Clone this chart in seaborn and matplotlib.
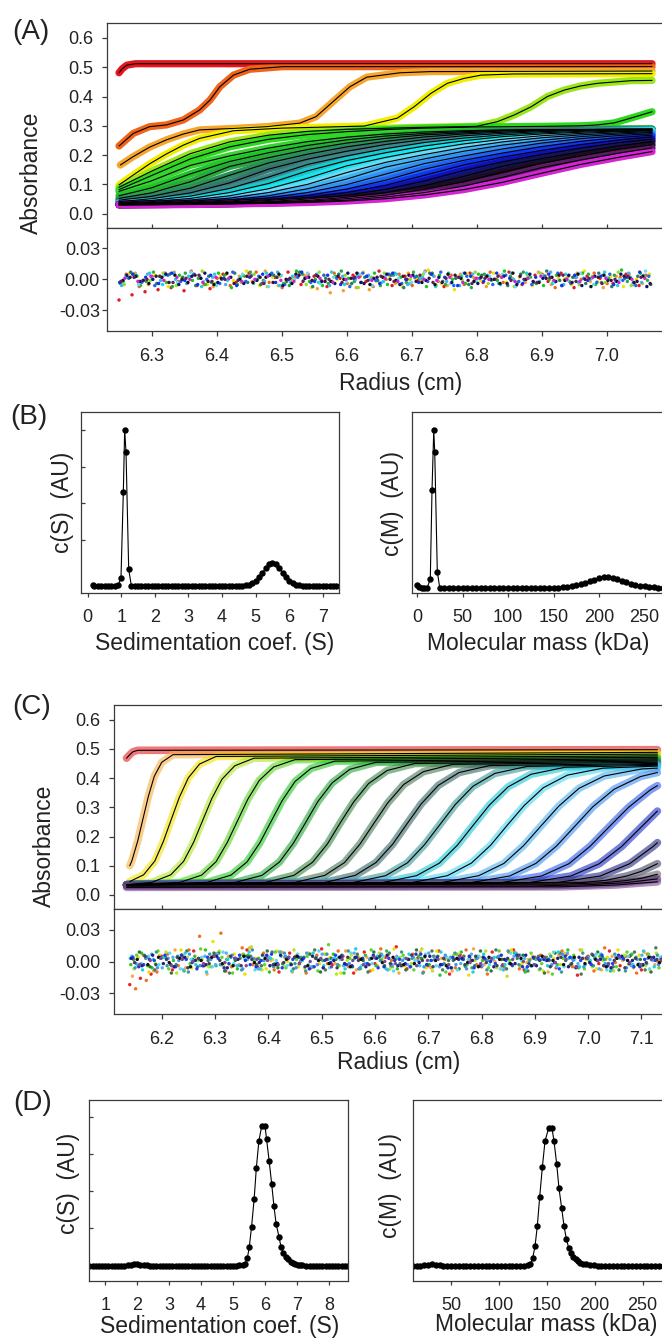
import pandas as pd
import seaborn as sns
import matplotlib.pyplot as plt

# ---------------- (A) absorbance scans ----------------
# first six scans, each with its own radial points (cm) and absorbance
A_top_r = [
    [6.250, 6.255, 6.262, 6.275, 7.070],
    [6.250, 6.272, 6.297, 6.323, 6.349, 6.374, 6.390, 6.405, 6.426, 6.451, 6.502, 7.070],
    [6.252, 6.272, 6.297, 6.323, 6.349, 6.374, 6.426, 6.477, 6.528, 6.553, 6.579, 6.605, 6.631, 6.682, 6.728, 7.070],
    [6.250, 6.272, 6.297, 6.323, 6.349, 6.374, 6.426, 6.500, 6.627, 6.678, 6.704, 6.730, 6.755, 6.781, 6.807, 6.858, 7.070],
    [6.250, 6.300, 6.360, 6.420, 6.480, 6.540, 6.600, 6.700, 6.800, 6.832, 6.858, 6.884, 6.909, 6.935, 6.960, 6.986, 7.037, 7.070],
    [6.250, 6.300, 6.360, 6.420, 6.480, 6.540, 6.600, 6.660, 6.720, 6.800, 6.900, 6.960, 6.986, 7.012, 7.037, 7.070],
]
A_top_abs = [
    [0.481, 0.495, 0.507, 0.512, 0.512],
    [0.231, 0.274, 0.297, 0.303, 0.320, 0.354, 0.388, 0.433, 0.473, 0.493, 0.502, 0.502],
    [0.166, 0.195, 0.227, 0.252, 0.272, 0.286, 0.291, 0.297, 0.309, 0.331, 0.382, 0.433, 0.466, 0.481, 0.485, 0.487],
    [0.098, 0.132, 0.170, 0.204, 0.234, 0.257, 0.283, 0.292, 0.299, 0.326, 0.365, 0.411, 0.445, 0.462, 0.473, 0.477, 0.478],
    [0.090, 0.145, 0.205, 0.245, 0.268, 0.281, 0.288, 0.294, 0.298, 0.314, 0.337, 0.365, 0.400, 0.422, 0.436, 0.445, 0.454, 0.455],
    [0.082, 0.130, 0.187, 0.228, 0.254, 0.270, 0.280, 0.287, 0.292, 0.296, 0.298, 0.300, 0.303, 0.310, 0.326, 0.348],
]
A_top_colors = ["#e4161c", "#f0641a", "#f7a52c", "#f2ee00", "#9ae61a", "#2ed81e"]

# later scans on a common radial grid, absorbance x 1000
A_grid = [6.25, 6.30, 6.36, 6.42, 6.48, 6.54, 6.60, 6.66, 6.72, 6.78, 6.84, 6.90, 6.96, 7.02, 7.07]
A_low_mabs = [
    [76, 112, 165, 197, 224, 246, 261, 272, 279, 283, 286, 287, 288, 289, 289],
    [61, 88, 136, 178, 208, 233, 252, 265, 274, 280, 284, 286, 287, 288, 289],
    [52, 71, 109, 161, 191, 219, 241, 257, 269, 276, 282, 285, 287, 288, 288],
    [46, 59, 87, 131, 173, 203, 228, 247, 262, 272, 278, 283, 285, 287, 288],
    [41, 51, 71, 105, 152, 186, 213, 236, 253, 266, 274, 280, 284, 286, 287],
    [38, 45, 60, 86, 125, 168, 197, 222, 243, 258, 269, 276, 281, 285, 286],
    [36, 41, 52, 72, 103, 146, 181, 208, 231, 249, 263, 272, 278, 282, 285],
    [35, 38, 46, 61, 85, 121, 163, 192, 217, 238, 254, 266, 274, 280, 283],
    [34, 36, 42, 53, 72, 100, 140, 175, 202, 226, 245, 259, 269, 276, 280],
    [33, 35, 39, 47, 61, 85, 118, 159, 187, 213, 234, 250, 263, 272, 277],
    [32, 34, 37, 43, 54, 72, 99, 135, 171, 197, 221, 241, 256, 267, 273],
    [32, 33, 36, 40, 48, 62, 84, 114, 152, 182, 207, 229, 247, 260, 268],
    [32, 33, 35, 38, 45, 55, 72, 97, 131, 166, 193, 216, 236, 252, 262],
    [31, 32, 34, 36, 41, 50, 63, 83, 112, 147, 177, 202, 224, 243, 254],
    [31, 32, 33, 35, 39, 45, 56, 72, 96, 127, 162, 188, 211, 232, 246],
    [30, 31, 32, 34, 37, 42, 51, 63, 83, 109, 142, 172, 197, 220, 235],
    [30, 31, 32, 34, 36, 40, 46, 57, 72, 94, 124, 157, 183, 207, 224],
    [30, 30, 31, 33, 35, 38, 43, 51, 64, 82, 107, 138, 168, 193, 212],
]
A_low_colors = ["#36d430", "#22c22a", "#2aa83e", "#2c8c5c", "#3a7470", "#3a8a8c",
                "#18c8cc", "#1ce4ee", "#6cd8f2", "#44b2f2", "#3290f2", "#2264f2",
                "#1034ee", "#1010b4", "#141458", "#1c0c24", "#5a1c62", "#d424d4"]

# residuals (A): radial grid, per-scan radial offset, residual x 1000
A_res_r = [6.25, 6.27, 6.29, 6.31, 6.33, 6.35, 6.37, 6.39, 6.41, 6.43, 6.45, 6.47, 6.49, 6.51,
           6.53, 6.55, 6.57, 6.59, 6.61, 6.63, 6.65, 6.67, 6.69, 6.71, 6.73, 6.75, 6.77, 6.79,
           6.81, 6.83, 6.85, 6.87, 6.89, 6.91, 6.93, 6.95, 6.97, 6.99, 7.01, 7.03, 7.05]
A_res_shift = [0.000, 0.011, 0.005, 0.016, 0.008, 0.013, 0.002, 0.018, 0.007,
               0.010, 0.004, 0.015, 0.001, 0.012, 0.006, 0.017, 0.003, 0.009]
A_res_milli = [
    [-20, -15, -12, -10, -8, -11, -6, -9, 5, -3, 6, -4, 2, 7, -5, 3, -7, 1, 4, -2, 8, -6, 3, -1, 5, -7, 2, 6, -3, 0, 7, -5, 4, -2, 6, -8, 3, 1, -4, 5, -6],
    [5, -7, 3, 6, -2, 8, -5, 1, -6, 4, 7, -3, -8, 2, 5, -1, 6, -4, 3, -7, 0, 5, -6, 8, -2, 4, -5, 1, 7, -3, -6, 2, 5, -8, 3, 0, 6, -4, 2, -5, 4],
    [-3, 6, -5, 2, 7, -4, 1, -7, 5, 3, -2, 8, -6, 0, 4, -9, -13, -11, -8, -10, 2, -4, 6, -1, 3, -6, 5, 2, -7, 4, 1, -3, 7, -5, 0, 6, -2, -8, 3, 5, -4],
    [6, -2, 4, -7, 1, 5, -5, 3, -1, 8, -6, 2, -3, 6, -8, 4, 0, -5, 7, -2, 3, -7, 1, 9, -4, -10, 5, -1, 6, -3, 2, -6, 4, 1, -5, 8, -2, 3, -7, 0, 5],
    [-5, 3, -1, 6, -6, 2, 8, -4, 0, -3, 5, -7, 3, 1, -5, 7, -2, 4, -8, 2, 6, -3, 0, 5, -6, 3, -1, 7, -4, 2, -7, 4, 6, -2, 1, -5, 3, -3, 7, -6, 2],
    [2, -6, 7, -3, 4, -1, -5, 6, -8, 3, 0, 5, -4, 8, -2, -6, 3, 1, -3, 6, -5, 2, 7, -7, 4, 0, -4, 5, -1, 8, -3, 2, -6, 4, -2, 6, -5, 1, 9, -4, -1],
    [-4, 5, -2, 3, -7, 6, 1, -3, 4, -5, 7, -1, 2, -6, 5, 0, -4, 8, -2, 3, -6, 4, -3, 1, 6, -5, 2, -8, 5, -1, 3, 7, -4, 0, -6, 2, 5, -3, 4, -2, 6],
    [7, -1, -4, 5, 2, -6, 3, 0, 6, -3, -5, 4, -2, 7, -7, 1, 5, -4, 2, -1, 4, -8, 3, 6, -2, 1, -5, 4, 0, -6, 5, -3, 8, -1, 2, -4, 6, -7, 1, 3, -5],
    [-2, 4, 6, -5, 0, 3, -7, 5, -1, 2, -4, 6, -6, 3, 1, -3, 7, -5, 4, 0, -2, 5, -4, 2, -7, 6, 3, -1, 4, -5, 0, 6, -2, -4, 5, -3, 1, 7, -6, 2, 4],
    [3, -5, 1, 4, -3, 7, -2, -6, 2, 5, -1, -7, 4, 0, 6, -4, 2, -2, 5, -6, 3, 1, -3, 7, -1, -4, 6, -2, 3, 5, -7, 1, 4, -3, -1, 6, -5, 2, 0, -4, 8],
    [-6, 2, 5, -1, 6, -4, 3, 2, -5, 0, 4, -2, 7, -3, -1, 5, -6, 3, 0, 4, -3, 6, -5, 1, 3, -2, -6, 5, 2, -4, 6, -1, -3, 7, -5, 2, 0, 4, -2, 6, -3],
    [1, -3, -6, 4, -2, 5, 0, -4, 7, -2, 3, 6, -5, 2, -3, 4, 1, -7, 6, -1, 5, -4, 2, -2, 7, -6, 3, 1, -5, 4, -2, -5, 3, 6, -4, 1, -3, 5, -1, -6, 3],
    [-3, 5, 2, -4, 6, -1, -5, 4, 1, -6, 2, 5, -3, 0, 7, -2, 4, -5, 1, 3, -4, 6, 0, -3, 5, 2, -6, 3, -2, 6, 1, -4, 2, 5, -6, 4, -1, 3, -5, 2, 7],
    [4, -2, 0, 5, -5, 3, 6, -3, 2, -4, -1, 4, -6, 5, 2, -2, -4, 6, -3, 1, 5, -5, 4, -1, 2, -3, 6, -4, 0, 3, -5, 5, 1, -2, 4, -6, 3, -1, 5, -3, -7],
    [-1, 3, -4, 2, 4, -3, 1, -5, 6, 0, -3, 2, 5, -4, 1, 3, -2, 0, 6, -5, 2, -1, 4, -3, -5, 5, 1, -2, 3, -4, 6, 0, -3, 2, -1, 5, -7, 4, -2, 1, 3],
    [2, -1, 3, -3, 0, 4, -2, 1, -4, 3, 2, -3, 0, 4, -1, -2, 3, 1, -4, 2, 0, 3, -2, 1, -3, 4, -1, 2, 0, -4, 3, -2, 1, 4, -3, 0, 2, -1, 3, -2, -4],
    [-2, 2, 0, 3, -3, 1, 4, -2, 0, -1, 3, -4, 2, 1, -2, 4, 0, -3, 2, -1, 3, -2, 0, 4, -3, 1, 2, -4, 1, 3, -1, 0, -3, 2, 4, -2, 1, -4, 0, 3, 2],
    [1, -2, 3, -1, 2, 0, -3, 2, 1, -2, 0, 3, -1, -2, 2, 1, -3, 0, 2, -1, 1, -2, 3, 0, -1, 2, -3, 1, 0, 2, -2, 1, 3, -1, 0, -2, 2, 1, -3, 0, 1],
]
A_res_colors = ["#e41a1c", "#f0641a", "#f5a030", "#f0e000", "#90e020", "#20c020",
                "#2aa83e", "#2a7a6a", "#20d0e0", "#70d8f0", "#44b2f2", "#2264f2",
                "#1034ee", "#101070", "#101010", "#3a1040", "#602060", "#d020d0"]

# ---------------- (B) c(s) and c(M) ----------------
B_s = [0.15, 0.2, 0.3, 0.4, 0.5, 0.6, 0.7, 0.8, 0.9, 0.99, 1.06, 1.10, 1.14, 1.22,
       1.3, 1.4, 1.5, 1.6, 1.7, 1.8, 1.9, 2.0, 2.1, 2.2, 2.3, 2.4, 2.5, 2.6, 2.7, 2.8, 2.9,
       3.0, 3.1, 3.2, 3.3, 3.4, 3.5, 3.6, 3.7, 3.8, 3.9, 4.0, 4.1, 4.2, 4.3, 4.4, 4.5, 4.6,
       4.7, 4.8, 4.9, 5.0, 5.1, 5.2, 5.3, 5.4, 5.5, 5.6, 5.7, 5.8, 5.9, 6.0, 6.1, 6.2, 6.3,
       6.4, 6.5, 6.6, 6.7, 6.8, 6.9, 7.0, 7.1, 7.2, 7.3, 7.4, 7.5]
B_cs = [0.005, 0, 0, 0, 0, 0, 0, 0, 0.003, 0.05, 0.60, 1.0, 0.857, 0.107,
        0, 0, 0, 0, 0, 0, 0, 0, 0, 0, 0, 0, 0, 0, 0, 0, 0,
        0, 0, 0, 0, 0, 0, 0, 0, 0, 0, 0, 0, 0, 0, 0, 0, 0,
        0.003, 0.008, 0.017, 0.033, 0.056, 0.085, 0.115, 0.138, 0.146, 0.138, 0.115, 0.085, 0.056, 0.033, 0.017, 0.008, 0.003,
        0, 0, 0, 0, 0, 0, 0, 0, 0, 0, 0, 0]
B_m = [0, 2, 5, 8, 11, 14.6, 16.5, 18.4, 19.5, 22.3,
       25, 30, 35, 40, 45, 50, 55, 60, 65, 70, 75, 80, 85, 90, 95, 100, 105, 110, 115, 120, 125, 130, 135, 140, 145, 150,
       155, 160, 165, 170, 175, 180, 185, 190, 195, 200, 205, 210, 215, 220, 225, 230, 235, 240, 245, 250, 255, 260, 265, 270, 275, 280]
B_cm = [0.017, 0.004, 0, 0, 0, 0.056, 0.63, 1.01, 0.87, 0.105,
        0, 0, 0, 0, 0, 0, 0, 0, 0, 0, 0, 0, 0, 0, 0, 0, 0, 0, 0, 0, 0, 0, 0, 0, 0, 0,
        0.002, 0.005, 0.008, 0.012, 0.018, 0.025, 0.034, 0.045, 0.054, 0.063, 0.069, 0.069, 0.064, 0.055, 0.046, 0.036,
        0.027, 0.020, 0.014, 0.010, 0.006, 0.004, 0.002, 0.001, 0, 0]

# ---------------- (C) absorbance scans ----------------
C_r = [
    [6.134, 6.140, 6.146, 6.155, 7.130],
    [6.140, 6.144, 6.155, 6.165, 6.175, 6.186, 6.200, 6.221, 7.130],
    [6.140, 6.166, 6.187, 6.203, 6.218, 6.233, 6.250, 6.271, 6.302, 7.130],
    [6.134, 6.181, 6.217, 6.241, 6.260, 6.277, 6.294, 6.313, 6.337, 6.373, 7.130],
    [6.134, 6.234, 6.275, 6.302, 6.323, 6.342, 6.361, 6.383, 6.410, 6.450, 7.130],
    [6.134, 6.285, 6.330, 6.360, 6.384, 6.405, 6.426, 6.450, 6.480, 6.525, 7.130],
    [6.134, 6.338, 6.388, 6.421, 6.447, 6.470, 6.493, 6.520, 6.553, 6.602, 7.130],
    [6.134, 6.395, 6.448, 6.483, 6.511, 6.535, 6.560, 6.588, 6.623, 6.675, 7.130],
    [6.134, 6.450, 6.506, 6.543, 6.572, 6.598, 6.624, 6.654, 6.691, 6.746, 7.130],
    [6.134, 6.504, 6.563, 6.602, 6.633, 6.660, 6.687, 6.719, 6.758, 6.816, 7.130],
    [6.134, 6.558, 6.620, 6.661, 6.693, 6.722, 6.751, 6.784, 6.825, 6.886, 7.130],
    [6.134, 6.613, 6.678, 6.721, 6.755, 6.785, 6.815, 6.850, 6.893, 6.957, 7.130],
    [6.134, 6.668, 6.736, 6.781, 6.817, 6.848, 6.880, 6.916, 6.961, 7.028, 7.130],
    [6.134, 6.724, 6.795, 6.842, 6.879, 6.912, 6.945, 6.983, 7.030, 7.100, 7.130],
    [6.134, 6.779, 6.853, 6.902, 6.941, 6.975, 7.009, 7.049, 7.098, 7.130],
    [6.134, 6.836, 6.913, 6.964, 7.004, 7.040, 7.076, 7.117, 7.130],
    [6.134, 6.888, 6.968, 7.021, 7.063, 7.100, 7.130],
    [6.134, 6.940, 7.023, 7.078, 7.122, 7.130],
    [6.134, 6.987, 7.033, 7.073, 7.100, 7.130],
    [6.134, 6.950, 7.030, 7.070, 7.100, 7.130],
    [6.134, 6.900, 7.000, 7.070, 7.130],
    [6.134, 6.950, 7.050, 7.130],
]
C_abs = [
    [0.468, 0.480, 0.490, 0.495, 0.497],
    [0.100, 0.117, 0.185, 0.262, 0.338, 0.406, 0.454, 0.480, 0.488],
    [0.046, 0.069, 0.116, 0.183, 0.259, 0.334, 0.401, 0.448, 0.474, 0.482],
    [0.035, 0.043, 0.069, 0.115, 0.181, 0.256, 0.330, 0.396, 0.442, 0.468, 0.476],
    [0.035, 0.043, 0.068, 0.114, 0.180, 0.253, 0.326, 0.392, 0.438, 0.463, 0.471],
    [0.035, 0.043, 0.068, 0.113, 0.178, 0.251, 0.323, 0.388, 0.433, 0.458, 0.466],
    [0.035, 0.043, 0.067, 0.113, 0.177, 0.248, 0.320, 0.384, 0.430, 0.454, 0.462],
    [0.035, 0.043, 0.067, 0.112, 0.175, 0.247, 0.318, 0.381, 0.426, 0.450, 0.458],
    [0.035, 0.043, 0.067, 0.111, 0.174, 0.245, 0.315, 0.378, 0.422, 0.447, 0.454],
    [0.035, 0.042, 0.067, 0.111, 0.173, 0.243, 0.312, 0.375, 0.419, 0.443, 0.450],
    [0.035, 0.042, 0.066, 0.110, 0.172, 0.241, 0.310, 0.372, 0.416, 0.440, 0.447],
    [0.035, 0.042, 0.066, 0.109, 0.171, 0.240, 0.308, 0.370, 0.413, 0.437, 0.444],
    [0.035, 0.042, 0.066, 0.109, 0.170, 0.238, 0.306, 0.367, 0.410, 0.434, 0.441],
    [0.035, 0.042, 0.066, 0.108, 0.169, 0.237, 0.304, 0.365, 0.407, 0.431, 0.434],
    [0.035, 0.042, 0.065, 0.108, 0.168, 0.235, 0.302, 0.362, 0.405, 0.419],
    [0.035, 0.042, 0.065, 0.107, 0.167, 0.234, 0.300, 0.360, 0.374],
    [0.035, 0.042, 0.065, 0.107, 0.166, 0.233, 0.287],
    [0.035, 0.042, 0.065, 0.107, 0.166, 0.179],
    [0.035, 0.042, 0.050, 0.065, 0.081, 0.107],
    [0.034, 0.037, 0.042, 0.049, 0.057, 0.071],
    [0.030, 0.031, 0.035, 0.042, 0.055],
    [0.026, 0.028, 0.034, 0.045],
]
C_colors = ["#e8262a", "#f8b048", "#f2e20c", "#b4e62a", "#5ed62c", "#2ec82e", "#2aa83c",
            "#3c8c4a", "#4c7a5e", "#3a6c6a", "#3a9c9c", "#22c8d8", "#4cd6f2", "#52b4f0",
            "#4492f0", "#3060ee", "#2232c8", "#2c2c88", "#48486a", "#6a6a74", "#4a2c5c", "#7c4a94"]

C_res_r = [6.14, 6.16, 6.18, 6.20, 6.22, 6.24, 6.26, 6.28, 6.30, 6.32, 6.34, 6.36, 6.38, 6.40,
           6.42, 6.44, 6.46, 6.48, 6.50, 6.52, 6.54, 6.56, 6.58, 6.60, 6.62, 6.64, 6.66, 6.68,
           6.70, 6.72, 6.74, 6.76, 6.78, 6.80, 6.82, 6.84, 6.86, 6.88, 6.90, 6.92, 6.94, 6.96,
           6.98, 7.00, 7.02, 7.04, 7.06, 7.08, 7.10, 7.12]
C_res_shift = [0.000, 0.011, 0.005, 0.016, 0.008, 0.013, 0.002, 0.018, 0.007, 0.010,
               0.004, 0.015, 0.001, 0.012, 0.006, 0.017, 0.003, 0.009, 0.014, 0.0185]
C_res_milli = [
    [-22, -16, -12, 5, -8, 3, 10, -4, 7, -9, 2, 11, -5, 4, -10, 8, 0, -6, 12, -3, 5, -11, 9, -2, 4, 14, -7, 3, -4, 10, -12, 6, 1, -5, 9, -3, 11, -8, 4, 2, -6, 7, -13, 5, -2, 10, -4, 6, -8, 3],
    [-26, -18, -10, 7, -4, 11, 24, 3, 27, -5, 13, -3, 8, -8, 4, 5, -11, 6, -2, 10, -5, 3, -9, 12, 1, -4, 7, -10, 5, 2, -6, 11, -3, -12, 4, 9, -7, 2, 6, -4, 10, -5, 3, -9, 13, -1, 5, -11, 7, 0],
    [-14, 6, -9, 4, 11, -6, 2, -12, 8, 5, -3, 13, -7, 1, 9, -10, 3, -5, 7, -2, 10, -8, 4, -4, 6, -11, 2, 9, -6, 3, -9, 5, 12, -3, 0, -7, 8, -1, 4, -10, 6, -4, 11, -2, -8, 5, 1, -6, 9, -3],
    [4, -10, 6, -3, 11, -6, 2, 19, -4, 7, -12, 3, -7, 10, 0, -5, 8, -2, 4, -11, 6, 3, -8, 5, 12, -4, 2, -6, 10, -3, 7, -13, 4, 1, -7, 11, -2, 5, -9, 3, 8, -5, 2, -7, 4, 11, -3, 6, -8, 1],
    [-7, 5, -2, 9, -11, 4, 1, -5, 10, -3, 6, 14, -8, 2, -4, 11, -6, 3, 7, -12, 1, 5, -3, 8, -7, 4, -2, 12, -9, 3, 6, -4, 1, 10, -6, -14, 5, 2, -8, 7, -3, 4, 11, -5, 1, -9, 6, 3, -4, 8],
    [6, -4, 10, -7, 3, -2, 12, -5, 4, -11, 7, 1, -3, 9, -6, 2, 5, -9, 16, -4, 3, -7, 11, 2, -5, 6, -8, 4, 1, -10, 7, -3, 5, -6, 10, 1, -4, 8, -2, -12, 3, 6, -7, 4, 2, -5, 9, -3, 7, -6],
    [-3, 8, -6, 4, 1, -9, 5, 11, -4, 2, -7, 6, 3, -10, 9, -2, 4, -5, 1, 7, -11, 3, 6, -4, 10, -7, 2, 5, -3, -13, 4, 9, -6, 1, 3, -5, 8, -10, 2, 4, -3, 11, -6, 1, 5, -9, 3, 7, -4, 2],
    [9, -5, 3, -11, 6, 2, -4, 8, -9, 1, 5, -3, 10, -6, 4, -2, 7, -10, 3, 6, -5, 1, 9, -4, 2, -8, 11, -3, 5, 1, -7, 4, 10, -9, 2, -4, 6, 3, -11, 8, 1, -5, 4, 9, -2, -8, 5, 2, -10, 4],
    [2, 6, -8, 4, -3, 10, -5, 1, 8, -11, 3, 5, -4, 9, -2, -7, 4, 11, -8, 2, -3, 7, -10, 4, 8, -2, -5, 3, 10, -8, 1, 5, -4, 2, 11, -7, 3, -9, 5, 1, 8, -3, -12, 7, 4, -5, 2, 9, -8, 13],
    [-6, 3, 9, -4, 5, -10, 2, 7, -3, 4, -8, 11, 1, -5, 8, -2, -9, 4, 7, -3, 10, -7, 2, 1, -4, 9, 3, -11, 5, -2, 8, -5, 3, -8, 4, 10, -3, 1, -7, 5, -10, 3, 8, -4, 2, 7, -9, 4, -2, 6],
    [5, -8, 2, 4, -5, 8, -3, -10, 7, 2, -4, 9, -7, 3, 5, -9, 1, 8, -4, 3, -7, 12, -2, 5, -8, 3, 7, -4, 1, 9, -6, 2, -10, 7, 4, -3, 8, -7, 2, -4, 9, 3, -5, 1, 7, -8, 4, -3, 10, -5],
    [-4, 5, -3, 8, -7, 2, 4, -5, 9, -2, 3, -8, 5, 1, -4, 7, -3, 10, -6, 2, 8, -4, -2, 5, -9, 3, 1, 7, -4, 4, -8, 2, 5, -3, -7, 8, 1, -4, 4, 9, -5, 2, -3, 7, -8, 3, 5, -2, -7, 4],
    [3, -2, 7, -6, 4, -8, 1, 5, -3, 8, -4, 2, -7, 4, 9, -3, 1, -5, 7, 2, -4, 8, -2, 3, -7, 5, -3, 1, 8, -5, 3, -2, 7, -4, 2, -8, 5, 3, -3, 1, -5, 8, -2, 4, -7, 2, 3, -4, 6, 1],
    [-2, 4, -6, 3, 1, 7, -4, 2, -3, 6, -7, 3, 1, -2, 5, -6, 8, -3, 2, 4, -2, -6, 3, 7, -3, 1, 4, -5, 2, 6, -3, -7, 3, 1, 5, -2, 6, -4, 2, -3, 7, 1, -5, 3, -2, 4, -6, 2, 3, -3],
    [4, -3, 1, 6, -5, 2, -7, 4, 3, -2, 6, -3, 1, 7, -6, 2, 3, -5, 1, 6, -3, 4, -2, -6, 3, 2, -5, 7, 1, -3, 4, 2, -6, 3, -2, 1, 6, -5, 3, 2, -7, 4, 1, -3, 6, -2, 3, -5, 2, 1],
    [-5, 2, 4, -3, 6, -1, -4, 5, -6, 3, 1, -5, 6, -2, 3, 4, -7, 2, -1, 5, -4, 3, 6, -5, 1, -2, 7, -3, 4, -6, 2, 5, -4, 0, 6, -3, -5, 4, 2, -1, 5, -6, 3, 1, -4, 6, -2, -5, 4, 2],
    [3, -4, 6, -2, -5, 4, 1, -3, 5, -6, 2, 4, -1, -4, 6, -3, 2, 5, -6, 1, -2, 4, -5, 3, 6, -4, 2, -1, 5, -3, -6, 3, 1, 4, -5, 2, -2, 6, -4, 1, 3, -5, 4, -1, 2, -6, 5, 1, -3, 4],
    [-1, 5, -3, 2, 4, -6, 3, -2, 1, 5, -4, 2, 6, -3, -1, 4, -5, 3, 2, -6, 4, 1, -3, 5, -2, -4, 6, 1, -5, 3, 2, -3, 5, -1, -4, 3, 6, -2, 1, -5, 4, -2, 3, 6, -4, 1, -6, 3, -1, 2],
    [2, -3, 4, -1, 3, -5, 1, 4, -2, -4, 5, -1, 3, -3, 2, 5, -4, 1, -2, 4, -5, 2, 3, -1, 4, -3, -2, 5, 1, -4, 3, -1, -5, 4, 2, -2, 3, -4, 5, 1, -3, 4, -2, 2, -5, 3, 1, -3, 4, -1],
    [-3, 1, 3, -4, 2, 0, -2, 5, -1, 3, -4, 2, 1, -3, 4, -2, 0, 3, -5, 2, 1, -3, 4, 0, -2, 3, -4, 1, 2, -3, 5, -1, -2, 3, -4, 2, 0, -3, 4, -1, 2, -5, 3, 1, -2, 4, -1, -3, 2, 1],
]
C_res_colors = ["#e8262a", "#f07020", "#f8a848", "#f0e000", "#b4e62a", "#5ed62c", "#30c030",
                "#2a7a3a", "#4c7a5e", "#3a9a9a", "#20d0e0", "#60d8f0", "#50b0f0", "#4492f0",
                "#2040f0", "#2232c8", "#202080", "#404060", "#101010", "#7a4a94"]

# ---------------- (D) c(s) and c(M) ----------------
D_s = [0.5, 0.6, 0.7, 0.8, 0.9, 1.0, 1.1, 1.2, 1.3, 1.4, 1.5, 1.6, 1.7, 1.8, 1.9, 2.0, 2.1, 2.2, 2.3,
       2.4, 2.5, 2.6, 2.7, 2.8, 2.9, 3.0, 3.1, 3.2, 3.3, 3.4, 3.5, 3.6, 3.7, 3.8, 3.9, 4.0, 4.1,
       4.2, 4.3, 4.4, 4.5, 4.6, 4.7, 4.8, 4.9, 5.0, 5.1, 5.2, 5.3,
       5.374, 5.447, 5.51, 5.58, 5.66, 5.73, 5.81, 5.90, 6.00, 6.05, 6.13, 6.21, 6.28, 6.35,
       6.44, 6.50, 6.57, 6.65, 6.72, 6.80, 6.87, 6.95, 7.02, 7.10, 7.17,
       7.3, 7.4, 7.5, 7.6, 7.7, 7.8, 7.9, 8.0, 8.1, 8.2, 8.3, 8.4, 8.5, 8.6]
D_cs = [0, 0, 0, 0, 0, 0, 0, 0, 0, 0, 0, 0, 0.003, 0.006, 0.009, 0.010, 0.008, 0.005, 0.002,
        0, 0, 0, 0, 0, 0, 0, 0, 0, 0, 0, 0, 0, 0, 0, 0, 0, 0,
        0, 0, 0, 0, 0, 0, 0, 0, 0, 0, 0.002, 0.005,
        0.012, 0.053, 0.136, 0.279, 0.474, 0.70, 0.893, 1.0, 1.0, 0.903, 0.75, 0.584, 0.426, 0.298,
        0.205, 0.136, 0.093, 0.064, 0.045, 0.030, 0.020, 0.012, 0.007, 0.004, 0.002,
        0, 0, 0, 0, 0, 0, 0, 0, 0, 0, 0, 0, 0, 0]
D_m = [10, 14, 18, 22, 26, 30, 34, 38, 42, 46, 50, 54, 58, 62, 66, 70, 74, 78, 82, 86, 90, 94, 98,
       102, 106, 110, 114, 118, 122, 126, 130,
       132.8, 135.2, 137.7, 140.1, 142.5, 145.3, 148.1, 152.0, 155.4, 157.5, 160.3, 162.7, 165.5,
       167.9, 170.4, 172.8, 175.2, 177.6, 180.0, 182.5, 185.0, 188.0, 191.0, 195.0, 199.0, 203.0,
       207, 211, 215, 219, 223, 227, 231, 235, 239, 243, 247, 251, 255, 259, 263, 267, 271, 275, 279]
D_cm = [0, 0, 0, 0.003, 0.008, 0.012, 0.008, 0.003, 0, 0, 0, 0, 0, 0, 0, 0, 0, 0, 0, 0, 0, 0, 0,
        0, 0, 0, 0, 0, 0, 0, 0.004,
        0.012, 0.053, 0.141, 0.286, 0.488, 0.702, 0.890, 0.986, 0.981, 0.890, 0.726, 0.553, 0.410,
        0.286, 0.190, 0.129, 0.093, 0.064, 0.045, 0.032, 0.022, 0.015, 0.010, 0.006, 0.003, 0.001,
        0, 0, 0, 0, 0, 0, 0, 0, 0, 0, 0, 0, 0, 0, 0, 0, 0, 0, 0]


def scans_frame(r_lists, a_lists):
    rows = []
    for k, (rr, aa) in enumerate(zip(r_lists, a_lists)):
        for r, a in zip(rr, aa):
            rows.append((f"s{k:02d}", r, a))
    return pd.DataFrame(rows, columns=["scan", "r", "a"])


def resid_frame(grid, shifts, milli):
    rows = []
    for k, (sh, vals) in enumerate(zip(shifts, milli)):
        for r, v in zip(grid, vals):
            rows.append((f"q{k:02d}", r + sh, v / 1000))
    return pd.DataFrame(rows, columns=["row", "r", "res"])


def draw_scans(ax, df, colors, lw, alpha):
    order = sorted(df["scan"].unique())
    sns.lineplot(data=df, x="r", y="a", hue="scan", hue_order=order, palette=colors,
                 lw=lw, alpha=alpha, estimator=None, legend=False, ax=ax,
                 solid_capstyle="round")
    sns.lineplot(data=df, x="r", y="a", units="scan", estimator=None, color="black",
                 lw=0.8, legend=False, ax=ax)


def draw_resid(ax, df, colors):
    order = sorted(df["row"].unique())
    sns.scatterplot(data=df, x="r", y="res", hue="row", hue_order=order, palette=colors,
                    s=6, linewidth=0, legend=False, ax=ax)


def draw_dist(ax, x, y):
    sns.lineplot(x=x, y=y, ax=ax, color="black", lw=0.8, marker="o", markersize=4.6,
                 markeredgewidth=0, estimator=None, sort=False)


W, H = 662, 1343
sns.set_style("ticks")
plt.rcParams["font.family"] = ["Liberation Sans", "DejaVu Sans"]
plt.rcParams.update({
    "axes.edgecolor": "#3a3a3a", "axes.linewidth": 0.9,
    "xtick.color": "#3a3a3a", "ytick.color": "#3a3a3a",
    "xtick.labelcolor": "#222222", "ytick.labelcolor": "#222222",
    "xtick.labelsize": 13, "ytick.labelsize": 13,
    "xtick.major.width": 0.9, "ytick.major.width": 0.9,
})

fig = plt.figure(figsize=(W / 100, H / 100), dpi=100)


def box(x0, y0, x1, y1):
    return fig.add_axes([x0 / W, 1 - y1 / H, (x1 - x0) / W, (y1 - y0) / H])


def label(x, y, s, size=16.5, rot=0):
    fig.text(x / W, 1 - y / H, s, ha="center", va="center", fontsize=size, rotation=rot,
             color="#222222")


def scan_axes(ax_top, ax_res, xlim, xticks, top_pad, res_pad):
    for ax in (ax_top, ax_res):
        ax.set_xlim(*xlim)
        ax.set_xticks(xticks)
        ax.set_xlabel("")
        ax.set_ylabel("")
    ax_top.set_ylim(-0.048, 0.65)
    ax_top.set_yticks([0, 0.1, 0.2, 0.3, 0.4, 0.5, 0.6],
                      labels=["0.0", "0.1", "0.2", "0.3", "0.4", "0.5", "0.6"])
    ax_top.tick_params(axis="x", direction="inout", length=6, labelbottom=False)
    ax_top.tick_params(axis="y", direction="out", length=3.6, pad=top_pad)
    ax_res.set_ylim(-0.05, 0.05)
    ax_res.set_yticks([-0.03, 0, 0.03], labels=["-0.03", "0.00", "0.03"])
    ax_res.set_xticks(xticks, labels=[f"{v:.1f}" for v in xticks])
    ax_res.tick_params(axis="x", direction="out", length=3.6, pad=8.5)
    ax_res.tick_params(axis="y", direction="out", length=3.6, pad=res_pad)


def dist_axes(ax, xlim, ylim, xticks, yticks):
    ax.set_xlim(*xlim)
    ax.set_ylim(*ylim)
    ax.set_xticks(xticks, labels=[str(v) for v in xticks])
    ax.set_yticks(yticks)
    ax.tick_params(axis="x", direction="out", length=3, pad=8.5)
    ax.tick_params(axis="y", direction="in", length=3, labelleft=False)
    ax.set_xlabel("")
    ax.set_ylabel("")


# ---- panel A ----
axA = box(107, 23.3, 675, 227.7)
axAr = box(107, 227.7, 675, 331)
dfA = scans_frame(A_top_r + [A_grid] * len(A_low_mabs),
                  A_top_abs + [[v / 1000 for v in row] for row in A_low_mabs])
draw_scans(axA, dfA, A_top_colors + A_low_colors, lw=5.2, alpha=1.0)
draw_resid(axAr, resid_frame(A_res_r, A_res_shift, A_res_milli), A_res_colors)
scan_axes(axA, axAr, (6.2315, 7.1053), [6.3, 6.4, 6.5, 6.6, 6.7, 6.8, 6.9, 7.0], 6.0, 1.5)

# ---- panel B ----
axB1 = box(81, 411.7, 339.3, 593.3)
axB2 = box(412, 411.7, 680, 593.3)
draw_dist(axB1, B_s, B_cs)
draw_dist(axB2, B_m, B_cm)
dist_axes(axB1, (-0.2, 7.49), (-0.047, 1.117), [0, 1, 2, 3, 4, 5, 6, 7], [0.295, 0.53, 0.765, 1.0])
dist_axes(axB2, (-5.5, 289), (-0.034, 1.13), [0, 50, 100, 150, 200, 250], [])

# ---- panel C ----
axC = box(114.3, 705, 675, 909)
axCr = box(114.3, 909, 675, 1014)
draw_scans(axC, scans_frame(C_r, C_abs), C_colors, lw=5.5, alpha=0.62)
draw_resid(axCr, resid_frame(C_res_r, C_res_shift, C_res_milli), C_res_colors)
scan_axes(axC, axCr, (6.111, 7.163), [6.2, 6.3, 6.4, 6.5, 6.6, 6.7, 6.8, 6.9, 7.0, 7.1], 6.5, 6.5)

# ---- panel D ----
axD1 = box(89, 1100, 347.7, 1280.7)
axD2 = box(412.7, 1100, 680, 1280.7)
draw_dist(axD1, D_s, D_cs)
draw_dist(axD2, D_m, D_cm)
dist_axes(axD1, (0.49, 8.59), (-0.107, 1.184), [1, 2, 3, 4, 5, 6, 7, 8], [0.27, 0.535, 0.80, 1.06])
dist_axes(axD2, (10, 289), (-0.107, 1.184), [50, 100, 150, 200, 250], [])

# ---- texts ----
label(31, 32, "(A)", size=20)
label(29, 417, "(B)", size=20)
label(32, 707, "(C)", size=20)
label(33, 1103, "(D)", size=20)
label(31.7, 173, "Absorbance", rot=90)
label(44, 846, "Absorbance", rot=90)
label(401, 383, "Radius (cm)")
label(398.5, 1063, "Radius (cm)")
label(62, 502, "c(S)  (AU)", rot=90)
label(393, 503, "c(M)  (AU)", rot=90)
label(69, 1183, "c(S)  (AU)", rot=90)
label(391, 1185, "c(M)  (AU)", rot=90)
label(214.5, 643, "Sedimentation coef. (S)")
label(538, 643, "Molecular mass (kDa)")
label(220, 1326, "Sedimentation coef. (S)")
label(546.5, 1325, "Molecular mass (kDa)")

fig.savefig("out.png", dpi=100)
